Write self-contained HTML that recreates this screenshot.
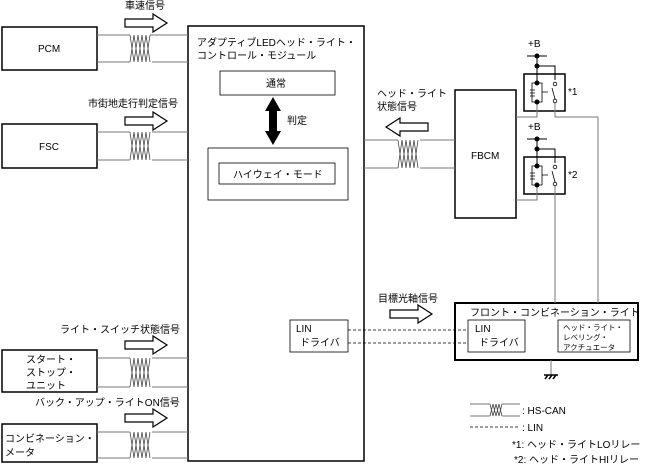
<!DOCTYPE html>
<html><head><meta charset="utf-8"><style>
html,body{margin:0;padding:0;background:#fff;}
svg{display:block;font-family:"Liberation Sans","Noto Sans CJK JP",sans-serif;}
</style></head><body>
<svg width="647" height="469" viewBox="0 0 647 469" xmlns="http://www.w3.org/2000/svg">
<defs>
<g id="arr"><path d="M0,5 H28 V0 L42,9 L28,18 V13 H0 Z" fill="#fff" stroke="#000" stroke-width="1.2"/></g>
</defs>
<g stroke="#000" fill="none" stroke-width="1.5">
<rect x="2" y="27" width="95" height="43"/>
<rect x="2" y="124" width="95" height="44"/>
<rect x="2" y="350" width="95" height="42"/>
<rect x="2" y="424" width="95" height="38"/>
<rect x="188" y="26" width="176" height="435"/>
<rect x="455" y="90" width="61" height="128"/>
<rect x="455" y="303" width="183" height="57" stroke-width="2"/>
<rect x="524" y="74" width="41" height="37"/>
<rect x="524" y="157" width="41" height="37"/>
</g>
<g stroke="#000" fill="none" stroke-width="0.8">
<rect x="220" y="71" width="115" height="24"/>
<rect x="208" y="148" width="140" height="52"/>
<rect x="219" y="163" width="116" height="21"/>
<rect x="290" y="320" width="58" height="32"/>
<rect x="468" y="320" width="57" height="32"/>
<rect x="558" y="320" width="72" height="32"/>
</g>
<g stroke="#777" fill="none" stroke-width="1">
<path d="M97,35 H130 M152,35 H188 M97,62 H130 M152,62 H188"/>
<path d="M97,132 H130 M152,132 H188 M97,160 H130 M152,160 H188"/>
<path d="M97,358 H130 M152,358 H188 M97,387 H130 M152,387 H188"/>
<path d="M97,432 H130 M152,432 H188 M97,458 H130 M152,458 H188"/>
<path d="M364,140 H398 M420,140 H455 M364,168 H398 M420,168 H455"/>
<path d="M470,404 H490 M502,404 H520 M470,416 H490 M502,416 H520"/>
</g>
<g stroke="#444" fill="none" stroke-width="0.8">
<path d="M130,35 L134,62 L138,35 L142,62 L146,35 L150,62 M134,35 L138,62 L142,35 L146,62 L150,35 M130,62 L134,35 M150,35 L152,35"/>
<path d="M130,132 L134,160 L138,132 L142,160 L146,132 L150,160 M134,132 L138,160 L142,132 L146,160 L150,132 M130,160 L134,132"/>
<path d="M130,358 L134,387 L138,358 L142,387 L146,358 L150,387 M134,358 L138,387 L142,358 L146,387 L150,358 M130,387 L134,358"/>
<path d="M130,432 L134,458 L138,432 L142,458 L146,432 L150,458 M134,432 L138,458 L142,432 L146,458 L150,432 M130,458 L134,432"/>
<path d="M398,140 L402,168 L406,140 L410,168 L414,140 L418,168 M402,140 L406,168 L410,140 L414,168 L418,140 M398,168 L402,140"/>
<path d="M490,404 L493,416 L496,404 L499,416 L502,404 M493,404 L496,416 L499,404 L502,416 M490,416 L493,404"/>
</g>
<use href="#arr" x="125" y="14"/>
<use href="#arr" x="125" y="112"/>
<use href="#arr" x="125" y="336"/>
<use href="#arr" x="125" y="409"/>
<use href="#arr" x="390" y="305"/>
<path d="M428,123 H400 V118 L386,127 L400,136 V131 H428 Z" fill="#fff" stroke="#000" stroke-width="1.2"/>
<path d="M273,97 L281,111 H277 V131 H281 L273,145 L265,131 H269 V111 H265 Z" fill="#000"/>
<g stroke="#000" stroke-width="0.8" stroke-dasharray="3,2">
<path d="M348,330 H468 M348,343 H468 M470,427 H520"/>
</g>
<g stroke="#000" fill="none" stroke-width="1">
<path d="M527,56 H547 M537,56 V83 M537,66 H555 V80"/>
<path d="M527,139 H547 M537,139 V166 M537,149 H555 V163"/>
</g>
<g stroke="#777" fill="none" stroke-width="1">
<path d="M516,117 H537 V103"/>
<path d="M555,103 V117 H598 V303"/>
<path d="M516,200 H537 V186"/>
<path d="M555,186 V303"/>
<path d="M551,360 V375"/>
</g>
<g fill="#000">
<circle cx="537" cy="56" r="2.5"/><circle cx="537" cy="66" r="2.5"/>
<circle cx="537" cy="83" r="2.5"/><circle cx="537" cy="102" r="2.5"/>
<circle cx="537" cy="139" r="2.5"/><circle cx="537" cy="149" r="2.5"/>
<circle cx="537" cy="166" r="2.5"/><circle cx="537" cy="185" r="2.5"/>
</g>
<g stroke="#000" fill="none" stroke-width="0.8">
<path d="M537,83 H532 V102 H537 M537,83 H542 V102 H537 M530,90 H535 M530,93 H535 M530,96 H535 M542,92 H548"/>
<circle cx="555" cy="84" r="1.8"/><circle cx="555" cy="101" r="1.8"/><path d="M555,99 L552,88"/>
<path d="M537,166 H532 V185 H537 M537,166 H542 V185 H537 M530,173 H535 M530,176 H535 M530,179 H535 M542,175 H548"/>
<circle cx="555" cy="167" r="1.8"/><circle cx="555" cy="184" r="1.8"/><path d="M555,182 L552,171"/>
<path d="M544,375 H558 M545,379 L548,375 M549,379 L552,375 M553,379 L556,375" stroke-width="1.5"/>
</g>
<g font-size="10" fill="#000">
<text x="125" y="9">車速信号</text>
<text x="88" y="107">市街地走行判定信号</text>
<text x="60" y="333">ライト・スイッチ状態信号</text>
<text x="35" y="406">バック・アップ・ライトON信号</text>
<text x="38" y="52">PCM</text>
<text x="39" y="150">FSC</text>
<text x="26" y="363">スタート・</text>
<text x="26" y="376">ストップ・</text>
<text x="26" y="389">ユニット</text>
<text x="5" y="442">コンビネーション・</text>
<text x="5" y="456">メータ</text>
<text x="197" y="46">アダプティブLEDヘッド・ライト・</text>
<text x="197" y="59">コントロール・モジュール</text>
<text x="266" y="87">通常</text>
<text x="287" y="124">判定</text>
<text x="233" y="178">ハイウェイ・モード</text>
<text x="377" y="97">ヘッド・ライト</text>
<text x="377" y="110">状態信号</text>
<text x="471" y="159">FBCM</text>
<text x="378" y="302">目標光軸信号</text>
<text x="470" y="316">フロント・コンビネーション・ライト</text>
<text x="296" y="332">LIN</text>
<text x="300" y="346">ドライバ</text>
<text x="475" y="332">LIN</text>
<text x="479" y="346">ドライバ</text>
<text x="528" y="47">+B</text>
<text x="528" y="130">+B</text>
<text x="568" y="95">*1</text>
<text x="568" y="178">*2</text>
<text x="522" y="414">: HS-CAN</text>
<text x="522" y="431">: LIN</text>
<text x="512" y="448">*1: ヘッド・ライトLOリレー</text>
<text x="514" y="463">*2: ヘッド・ライトHIリレー</text>
</g>
<g font-size="7.5" fill="#000">
<text x="563" y="330">ヘッド・ライト・</text>
<text x="563" y="340">レベリング・</text>
<text x="563" y="350">アクチュエータ</text>
</g>
</svg>
</body></html>
